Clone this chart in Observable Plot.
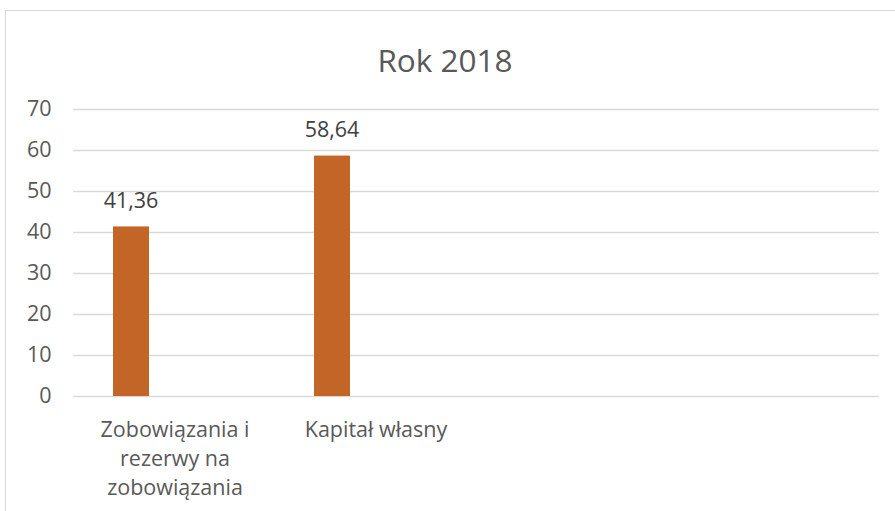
<!DOCTYPE html>
<html>
<head>
<meta charset="utf-8">
<script src="https://cdn.jsdelivr.net/npm/d3@7"></script>
<script src="https://cdn.jsdelivr.net/npm/@observablehq/plot@0.6"></script>
<style>
  html, body { margin: 0; padding: 0; background: #fff; overflow: hidden; }
  #wrap { position: relative; width: 895px; height: 511px; }
  #frame { position: absolute; left: 5px; top: 10px; width: 1000px; height: 1000px; border: 1px solid #d9d9d9; box-sizing: border-box; }
  #title { position: absolute; left: 0; width: 890px; top: 40px; text-align: center; font-family: "Open Sans", sans-serif; font-size: 31.5px; color: #595959; line-height: 40px; }
  #chart { position: absolute; left: 0; top: 0; }
</style>
</head>
<body>
<div id="wrap">
  <div id="frame"></div>
  <div id="title">Rok 2018</div>
  <div id="chart"></div>
</div>
<script>
const categories = ["Zobowiązania i rezerwy na zobowiązania", "Kapitał własny", "(pusta 1)", "(pusta 2)"];
const tickLabels = ["Zobowiązania i\nrezerwy na\nzobowiązania", "Kapitał własny", "", ""];
const values = [41.36, 58.64];
const yTicks = [0, 10, 20, 30, 40, 50, 60, 70];

const data = values.map((v, i) => ({category: categories[i], value: v}));
const fmt = v => d3.format(".2f")(v).replace(".", ",");

const plot = Plot.plot({
  width: 895,
  height: 511,
  marginLeft: 73,
  marginRight: 16,
  marginTop: 109,
  marginBottom: 115,
  style: {fontFamily: "'Open Sans', sans-serif", fontSize: "21.5px", color: "#595959", background: "transparent"},
  x: {domain: categories, padding: 0, label: null},
  y: {domain: [0, 70], label: null},
  marks: [
    Plot.ruleY(yTicks, {stroke: "#d9d9d9", strokeWidth: 1.5, strokeOpacity: 1}),
    Plot.barY(data, {x: "category", y: "value", fill: "#c46528", insetLeft: 39, insetRight: 126}),
    Plot.text(data, {x: "category", y: "value", text: d => fmt(d.value), dx: -44, dy: -26, fill: "#404040", fontSize: 21.5}),
    Plot.axisY({ticks: yTicks, tickSize: 0, tickPadding: 22, fill: "#595959", fontSize: 21.5, label: null}),
    Plot.axisX({tickSize: 0, tickPadding: 20, tickFormat: (d) => tickLabels[categories.indexOf(d)], lineHeight: 1.35, fill: "#595959", fontSize: 21.5, textAnchor: "middle", label: null})
  ]
});
document.getElementById("chart").appendChild(plot);
</script>
</body>
</html>
